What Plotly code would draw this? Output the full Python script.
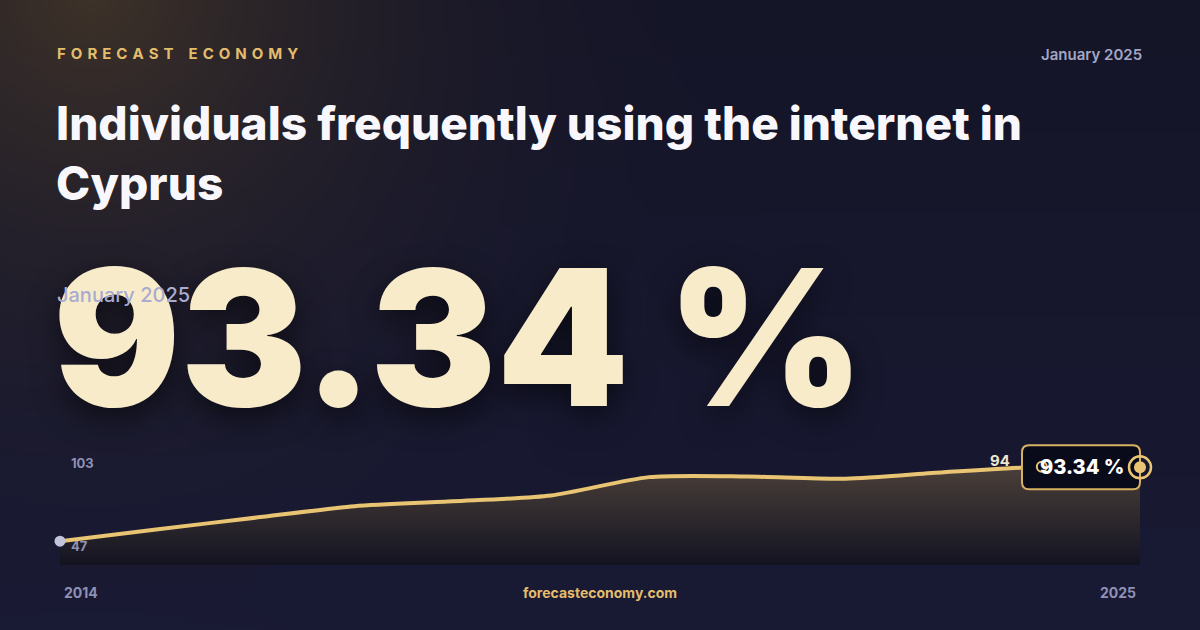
import base64
import struct
import zlib

import plotly.graph_objects as go

# --- data -------------------------------------------------------------
years = [2014, 2015, 2016, 2017, 2018, 2019, 2020, 2021, 2022, 2023, 2024, 2025]
share = [58.3, 64.0, 69.5, 74.9, 77.2, 80.0, 88.7, 89.0, 87.9, 91.0, 93.6, 93.34]

brand = "FORECAST ECONOMY"
period = "January 2025"
title = "Individuals frequently using the internet in<br>Cyprus"
site = "forecasteconomy.com"
unit = "%"

W, H = 1200, 630
GOLD = "#e8c473"
GREY = "#8f91b5"
FONT = "Inter"

y_top = round(max(share) * 1.1)
y_bot = round(min(share) * 0.8)
last_x, last_y = years[-1], share[-1]
max_i = share.index(max(share))

# plot area: line runs 60..1140 px, bottom at 565px, y_top sits at 447px.
# extra headroom/right room so the value box and end ring aren't clipped
PLOT_LEFT, PLOT_RIGHT = 60, 1140
PLOT_BOTTOM, PLOT_TOP = 565, 447
yscale = (PLOT_BOTTOM - PLOT_TOP) / (y_top - y_bot)
y_max_axis = y_top + 15
dom_top = PLOT_BOTTOM - (y_max_axis - y_bot) * yscale
xscale = (PLOT_RIGHT - PLOT_LEFT) / (years[-1] - years[0])
x_max_axis = years[-1] + 20 / xscale
dom_right = PLOT_RIGHT + 20


def px(x):
    return x / W


def py(y):
    return (H - y) / H


# background glow as a small png, stretched over the page
def make_bg(w=240, h=126):
    rows = []
    for j in range(h):
        yy = j * H / h
        row = bytearray([0])
        for i in range(w):
            xx = i * W / w
            f = yy / H
            base = (21 + 4 * f, 21 + 5 * f, 40 + 12 * f)
            d = ((xx - 90) ** 2 + (yy + 10) ** 2) ** 0.5
            t = max(0.0, 1 - d / 700) ** 2.3
            glow = (63, 51, 41)
            row += bytes(int(base[k] + (glow[k] - base[k]) * t) for k in range(3))
        rows.append(bytes(row))
    raw = b"".join(rows)

    def chunk(tag, data):
        c = struct.pack(">I", len(data)) + tag + data
        return c + struct.pack(">I", zlib.crc32(tag + data) & 0xFFFFFFFF)

    png = b"\x89PNG\r\n\x1a\n"
    png += chunk(b"IHDR", struct.pack(">IIBBBBB", w, h, 8, 2, 0, 0, 0))
    png += chunk(b"IDAT", zlib.compress(raw, 9))
    png += chunk(b"IEND", b"")
    return "data:image/png;base64," + base64.b64encode(png).decode()


fig = go.Figure()

fig.add_trace(go.Scatter(
    x=years, y=share, mode="lines",
    line=dict(color=GOLD, width=4, shape="spline", smoothing=0.7),
    fill="tozeroy",
    fillgradient=dict(type="vertical", start=y_bot, stop=last_y,
                      colorscale=[[0, "#131321"], [1, "#4a3f39"]]),
    hoverinfo="skip",
))

# start dot
fig.add_trace(go.Scatter(
    x=[years[0]], y=[share[0]], mode="markers", cliponaxis=False,
    marker=dict(size=11, color="#c3c5dc"), hoverinfo="skip",
))

shapes = []
# value box at the last point (rounded rectangle, pixel sized)
r = 7
bw, bh = 118, 44
path = (f"M {-bw + r},{bh/2} L {-r},{bh/2} Q 0,{bh/2} 0,{bh/2 - r} "
        f"L 0,{-bh/2 + r} Q 0,{-bh/2} {-r},{-bh/2} "
        f"L {-bw + r},{-bh/2} Q {-bw},{-bh/2} {-bw},{-bh/2 + r} "
        f"L {-bw},{bh/2 - r} Q {-bw},{bh/2} {-bw + r},{bh/2} Z")
shapes.append(dict(type="path", xref="x", yref="y", xsizemode="pixel", ysizemode="pixel",
                   xanchor=last_x, yanchor=last_y, path=path,
                   fillcolor="#0a0b1a", line=dict(color="#d8b160", width=2), layer="above"))


def circle(xv, yv, rad, fill, lw):
    return dict(type="circle", xref="x", yref="y", xsizemode="pixel", ysizemode="pixel",
                xanchor=xv, yanchor=yv, x0=-rad, x1=rad, y0=-rad, y1=rad,
                fillcolor=fill, line=dict(color=GOLD, width=lw), layer="above")


shapes.append(circle(last_x, last_y, 11, "rgba(0,0,0,0)", 2.5))
shapes.append(circle(last_x, last_y, 6, GOLD, 0))
shapes.append(circle(years[max_i], share[max_i], 5, "rgba(0,0,0,0)", 2))

ann = []


def text(x, y, s, size, color, weight=700, xanchor="left", yanchor="middle", **kw):
    ann.append(dict(x=px(x), y=py(y), xref="paper", yref="paper", text=s, showarrow=False,
                    xanchor=xanchor, yanchor=yanchor,
                    font=dict(family=FONT, size=size, color=color, weight=weight), **kw))


spaced = "\u2004".join(brand).replace("\u2004 \u2004", "\u2004\u2004\u2004")
text(55, 53, spaced, 15, "#e3bd6c", 700)
text(1144, 54, period, 15, "#a4a6c4", 600, xanchor="right")
text(54, 153, title, 46, "#f8f8fc", 800, align="left")

# big headline number
ann.append(dict(x=px(51), y=py(337), xref="paper", yref="paper",
                text=f"{last_y:.2f} {unit}", showarrow=False, xanchor="left", yanchor="middle",
                font=dict(family=FONT, size=189, color="#f8ebca", weight=900,
                          shadow="0px 10px 30px rgba(0,0,0,0.55)")))
text(55, 295, period, 20, "#a9abcf", 500)

# axis-ish labels
ann.append(dict(x=px(69), y=y_top, xref="paper", yref="y", text=str(y_top), showarrow=False,
                xanchor="left", yanchor="top", yshift=-6,
                font=dict(family=FONT, size=13, color=GREY, weight=700)))
ann.append(dict(x=px(69), y=y_bot, xref="paper", yref="y", text=str(y_bot), showarrow=False,
                xanchor="left", yanchor="bottom", yshift=9,
                font=dict(family=FONT, size=13, color=GREY, weight=700)))
ann.append(dict(x=years[max_i], y=share[max_i], xref="x", yref="y", text=str(round(max(share))),
                showarrow=False, xanchor="right", yanchor="middle", xshift=-30, yshift=6,
                font=dict(family=FONT, size=15, color="#efe5cf", weight=700)))
ann.append(dict(x=last_x, y=last_y, xref="x", yref="y", text=f"{last_y:.2f} {unit}",
                showarrow=False, xanchor="right", yanchor="middle", xshift=-14,
                font=dict(family=FONT, size=20, color="#ffffff", weight=800)))

text(62, 592, str(years[0]), 14, GREY, 700)
text(1138, 592, str(years[-1]), 14, GREY, 700, xanchor="right")
text(600, 592, site, 14, "#e3bd6c", 700, xanchor="center")

fig.update_layout(
    width=W, height=H,
    margin=dict(l=0, r=0, t=0, b=0),
    paper_bgcolor="#17182e",
    plot_bgcolor="rgba(0,0,0,0)",
    showlegend=False,
    xaxis=dict(domain=[px(PLOT_LEFT), px(dom_right)], range=[years[0], x_max_axis], visible=False),
    yaxis=dict(domain=[py(PLOT_BOTTOM), py(dom_top)], range=[y_bot, y_max_axis], visible=False),
    shapes=shapes,
    annotations=ann,
    images=[dict(source=make_bg(), xref="paper", yref="paper", x=0, y=1, sizex=1, sizey=1,
                 sizing="stretch", xanchor="left", yanchor="top", layer="below")],
)

fig.write_html("out.html", config={"displayModeBar": False},
               post_script="document.body.style.margin='0';")
